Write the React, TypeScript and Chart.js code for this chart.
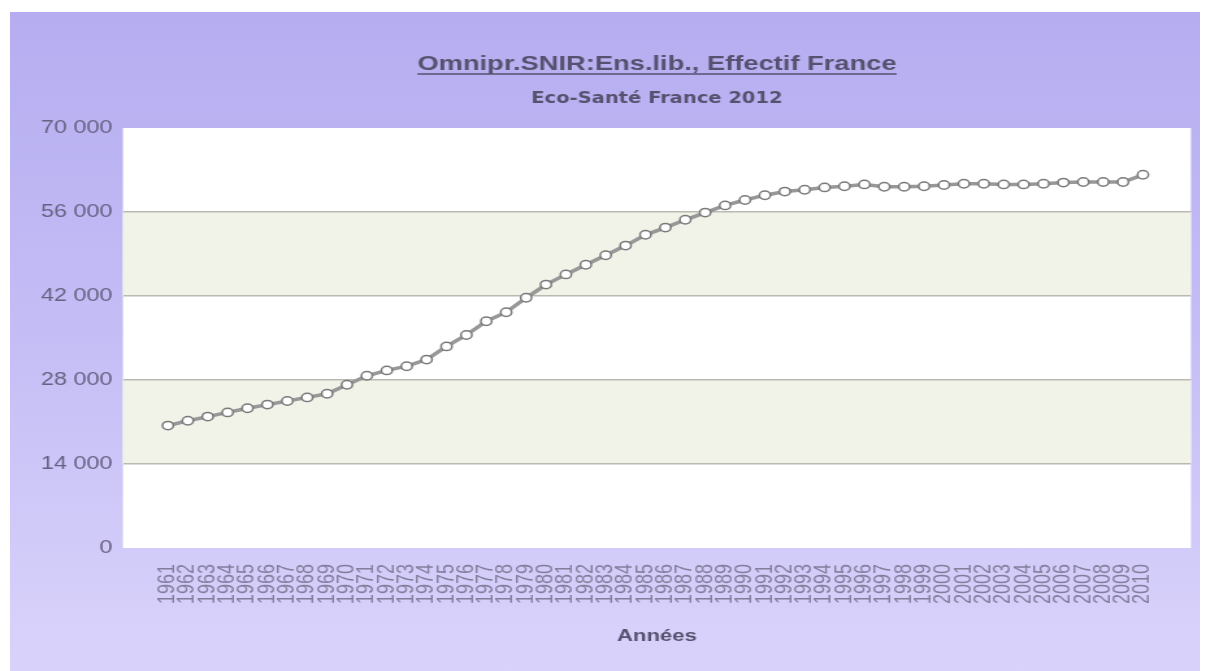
import { useEffect, useRef } from "react";
import { Chart, registerables } from "chart.js";

Chart.register(...registerables);

// ---- Data ----
const years: number[] = [
  1961, 1962, 1963, 1964, 1965, 1966, 1967, 1968, 1969, 1970,
  1971, 1972, 1973, 1974, 1975, 1976, 1977, 1978, 1979, 1980,
  1981, 1982, 1983, 1984, 1985, 1986, 1987, 1988, 1989, 1990,
  1991, 1992, 1993, 1994, 1995, 1996, 1997, 1998, 1999, 2000,
  2001, 2002, 2003, 2004, 2005, 2006, 2007, 2008, 2009, 2010,
];

const effectif: number[] = [
  20400, 21200, 21900, 22600, 23300, 23900, 24500, 25100, 25700, 27200,
  28700, 29600, 30300, 31400, 33600, 35500, 37800, 39300, 41700, 43900,
  45600, 47200, 48800, 50400, 52200, 53400, 54700, 55900, 57100, 58000,
  58800, 59400, 59700, 60100, 60300, 60600, 60200, 60200, 60300, 60500,
  60700, 60700, 60600, 60600, 60700, 60900, 61000, 61000, 61000, 62200,
];

const yTicks: number[] = [0, 14000, 28000, 42000, 56000, 70000];

const TITLE = "Omnipr.SNIR:Ens.lib., Effectif France";
const SUBTITLE = "Eco-Santé France 2012";
const X_TITLE = "Années";

// ---- Layout (canvas drawn narrow, then stretched horizontally like the reference) ----
const PAGE_W = 1206;
const PAGE_H = 671;
const CANVAS_W = 928;
const SX = PAGE_W / CANVAS_W;

const TEXT_DARK = "#57516f";
const TEXT_AXIS = "#676183";
const TEXT_XLAB = "#847e9c";

const formatThousands = (v: number) =>
  String(v).replace(/\B(?=(\d{3})+(?!\d))/g, " ");

const bandsPlugin = {
  id: "bands",
  beforeDraw(chart: any) {
    const { ctx, chartArea } = chart;
    const y = chart.scales.y;
    ctx.save();
    ctx.fillStyle = "#ffffff";
    ctx.fillRect(chartArea.left, chartArea.top, chartArea.right - chartArea.left, chartArea.bottom - chartArea.top);
    ctx.fillStyle = "#f1f2e8";
    for (let i = 1; i < yTicks.length - 1; i += 2) {
      const top = y.getPixelForValue(yTicks[i + 1]);
      const bottom = y.getPixelForValue(yTicks[i]);
      ctx.fillRect(chartArea.left, top, chartArea.right - chartArea.left, bottom - top);
    }
    ctx.restore();
  },
};

const titlesPlugin = {
  id: "titles",
  afterDraw(chart: any) {
    const { ctx, chartArea } = chart;
    const cx = (chartArea.left + chartArea.right) / 2;
    ctx.save();
    ctx.fillStyle = TEXT_DARK;
    ctx.strokeStyle = TEXT_DARK;
    ctx.textAlign = "center";
    ctx.textBaseline = "alphabetic";
    ctx.font = "bold 21px 'Liberation Sans', Arial, sans-serif";
    ctx.fillText(TITLE, cx, 70);
    const w = ctx.measureText(TITLE).width;
    ctx.lineWidth = 1.5;
    ctx.beginPath();
    ctx.moveTo(cx - w / 2, 74);
    ctx.lineTo(cx + w / 2, 74);
    ctx.stroke();
    ctx.font = "bold 15px 'DejaVu Sans', Verdana, sans-serif";
    ctx.fillText(SUBTITLE, cx, 103);
    ctx.restore();
  },
};

export default function App() {
  const canvasRef = useRef<HTMLCanvasElement | null>(null);

  useEffect(() => {
    const canvas = canvasRef.current;
    if (!canvas) return;
    Chart.defaults.font.family = "'Liberation Sans', Arial, sans-serif";

    const chart = new Chart(canvas, {
      type: "line",
      data: {
        datasets: [
          {
            label: TITLE,
            data: years.map((yr, i) => ({ x: yr, y: effectif[i] })),
            borderColor: "#989898",
            borderWidth: 3.5,
            pointRadius: 4.2,
            pointBackgroundColor: "#ffffff",
            pointBorderColor: "#7a7a7a",
            pointBorderWidth: 1.5,
            tension: 0,
          },
        ],
      },
      options: {
        responsive: false,
        animation: false,
        layout: { padding: { top: 128, right: 11.6, left: 0, bottom: 0 } },
        plugins: {
          legend: { display: false },
          tooltip: { enabled: false },
          title: { display: false },
        },
        scales: {
          x: {
            type: "linear",
            min: 1958.74,
            max: 2012.41,
            afterBuildTicks: (axis: any) => {
              axis.ticks = years.map((v) => ({ value: v }));
            },
            afterFit: (scale: any) => {
              scale.height = 123;
            },
            ticks: {
              autoSkip: false,
              minRotation: 90,
              maxRotation: 90,
              padding: 8,
              color: TEXT_XLAB,
              font: { size: 18 },
              callback: (v: any) => String(v),
            },
            grid: { display: false },
            border: { display: false },
            title: {
              display: true,
              text: X_TITLE,
              color: TEXT_DARK,
              font: { size: 17, weight: "bold" },
              padding: { top: 4, bottom: 24 },
            },
          },
          y: {
            min: 0,
            max: 70000,
            afterBuildTicks: (axis: any) => {
              axis.ticks = yTicks.map((v) => ({ value: v }));
            },
            afterFit: (scale: any) => {
              scale.width = 94.6;
            },
            ticks: {
              padding: 8,
              color: TEXT_AXIS,
              font: { size: 18 },
              callback: (v: any) => formatThousands(Number(v)),
            },
            grid: {
              drawTicks: false,
              lineWidth: 1.5,
              color: (ctx: any) =>
                ctx.tick && ctx.tick.value > 0 && ctx.tick.value < 70000 ? "#b9b9b2" : "rgba(0,0,0,0)",
            },
            border: { display: false },
          },
        },
      },
      plugins: [bandsPlugin, titlesPlugin],
    } as any);

    return () => chart.destroy();
  }, []);

  return (
    <div
      style={{
        position: "absolute",
        left: 0,
        top: 0,
        width: PAGE_W,
        height: PAGE_H,
        background: "#ffffff",
        overflow: "hidden",
      }}
    >
      <div
        style={{
          position: "absolute",
          left: 10,
          top: 12,
          width: 1190,
          height: PAGE_H - 12,
          background: "linear-gradient(180deg, #b5adf0 0%, #c3bcf5 45%, #d9d3fb 100%)",
        }}
      />
      <div
        style={{
          position: "absolute",
          left: 0,
          top: 0,
          width: CANVAS_W,
          height: PAGE_H,
          transform: `scaleX(${SX})`,
          transformOrigin: "0 0",
        }}
      >
        <canvas ref={canvasRef} width={CANVAS_W} height={PAGE_H} style={{ display: "block" }} />
      </div>
    </div>
  );
}
